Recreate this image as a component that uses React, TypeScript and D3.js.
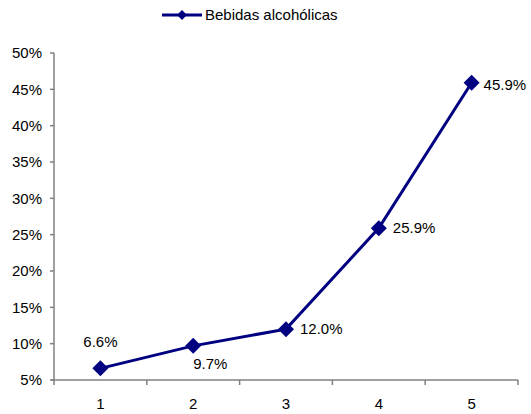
import React from "react";
import * as d3 from "d3";

const categories = ["1", "2", "3", "4", "5"];
const values = [6.6, 9.7, 12.0, 25.9, 45.9];
const yTicks = [5, 10, 15, 20, 25, 30, 35, 40, 45, 50];
const seriesName = "Bebidas alcohólicas";

const W = 531;
const H = 414;
const margin = { left: 54, right: 13, top: 53, bottom: 34 };
const color = "#000080";
const axisColor = "#808080";
const font = "'Liberation Sans', Arial, sans-serif";
const fs = 15;

export default function App() {
  const x = d3
    .scaleBand<string>()
    .domain(categories)
    .range([margin.left, W - margin.right]);
  const y = d3
    .scaleLinear()
    .domain([5, 50])
    .range([H - margin.bottom, margin.top]);
  const cx = (c: string) => (x(c) ?? 0) + x.bandwidth() / 2;
  const line = d3
    .line<number>()
    .x((_, i) => cx(categories[i]))
    .y((v) => y(v));
  const bandEdges = categories.map((c) => x(c) ?? 0).concat([W - margin.right]);

  // label placement: [dx, dy, anchor]
  const labelPos: [number, number, string][] = [
    [0, -27, "middle"],
    [0, 18, "start"],
    [14, 0, "start"],
    [14, 0, "start"],
    [12, 2, "start"],
  ];
  const diamond = (s: number) => `M0,${-s} L${s},0 L0,${s} L${-s},0 Z`;

  return (
    <svg
      width={W}
      height={H}
      style={{ position: "absolute", left: 0, top: 0, background: "#fff" }}
      fontFamily={font}
    >
      {/* legend */}
      <g>
        <line x1={162} x2={202} y1={15} y2={15} stroke={color} strokeWidth={3} />
        <path d={diamond(5)} transform="translate(182,15)" fill={color} />
        <text x={205} y={15} dy="0.35em" fontSize={fs} fill="#000">
          {seriesName}
        </text>
      </g>
      {/* y axis */}
      <line
        x1={margin.left}
        x2={margin.left}
        y1={y(50)}
        y2={y(5)}
        stroke={axisColor}
        strokeWidth={1.5}
      />
      {yTicks.map((t) => (
        <g key={t}>
          <line
            x1={margin.left - 4}
            x2={margin.left}
            y1={y(t)}
            y2={y(t)}
            stroke={axisColor}
            strokeWidth={1.5}
          />
          <text
            x={42}
            y={y(t)}
            dy="0.35em"
            textAnchor="end"
            fontSize={fs}
            fill="#000"
          >
            {t}%
          </text>
        </g>
      ))}
      {/* x axis */}
      <line
        x1={margin.left - 3}
        x2={W - margin.right}
        y1={y(5)}
        y2={y(5)}
        stroke={axisColor}
        strokeWidth={1.5}
      />
      {bandEdges.map((e, i) => (
        <line
          key={i}
          x1={e}
          x2={e}
          y1={y(5)}
          y2={y(5) + 5}
          stroke={axisColor}
          strokeWidth={1.5}
        />
      ))}
      {categories.map((c) => (
        <text
          key={c}
          x={cx(c)}
          y={y(5) + 29}
          textAnchor="middle"
          fontSize={fs}
          fill="#000"
        >
          {c}
        </text>
      ))}
      {/* series */}
      <path d={line(values) ?? ""} fill="none" stroke={color} strokeWidth={3} />
      {values.map((v, i) => (
        <path
          key={i}
          d={diamond(8)}
          transform={`translate(${cx(categories[i])},${y(v)})`}
          fill={color}
        />
      ))}
      {values.map((v, i) => {
        const [dx, dy, anchor] = labelPos[i];
        return (
          <text
            key={"l" + i}
            x={cx(categories[i]) + dx}
            y={y(v) + dy}
            dy="0.35em"
            textAnchor={anchor as any}
            fontSize={fs}
            fill="#000"
          >
            {v.toFixed(1)}%
          </text>
        );
      })}
    </svg>
  );
}
